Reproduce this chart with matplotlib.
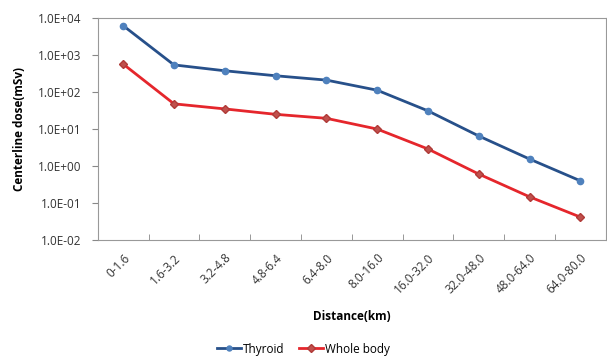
import math
import matplotlib
matplotlib.use("Agg")
import matplotlib.pyplot as plt
from matplotlib.ticker import FixedLocator, FuncFormatter

# distance bands and doses
distances = ["0-1.6", "1.6-3.2", "3.2-4.8", "4.8-6.4", "6.4-8.0", "8.0-16.0",
             "16.0-32.0", "32.0-48.0", "48.0-64.0", "64.0-80.0"]
thyroid = [6200, 540, 375, 275, 210, 112, 31, 6.5, 1.55, 0.40]
whole_body = [570, 48, 35, 25, 19.5, 10, 2.9, 0.61, 0.148, 0.042]
y_ticks = [1e-2, 1e-1, 1e0, 1e1, 1e2, 1e3, 1e4]

plt.rcParams['font.family'] = ['Open Sans', 'DejaVu Sans']

fig = plt.figure(figsize=(6.07, 3.59), dpi=100)
ax = fig.add_axes([0.161, 0.331, 0.837, 0.619])

x = list(range(len(distances)))
ax.plot(x, thyroid, color='#27508a', lw=2, marker='o', ms=4.5,
        mfc='#4f81bd', mec='#4f81bd', label='Thyroid')
ax.plot(x, whole_body, color='#e5262c', lw=2, marker='D', ms=4.5,
        mfc='#c0504d', mec='#b03a37', label='Whole body')

ax.set_yscale('log')
ax.set_ylim(1e-2, 1e4)
ax.set_xlim(-0.5, len(distances) - 0.5)
ax.yaxis.set_major_locator(FixedLocator(y_ticks))
ax.yaxis.set_minor_locator(FixedLocator([]))
ax.yaxis.set_major_formatter(FuncFormatter(
    lambda v, p: "1.0E%+03d" % round(math.log10(v))))

ax.set_xticks(x)
ax.set_xticklabels(distances, rotation=45, ha='right', rotation_mode='anchor',
                   fontsize=8.5, color='#333333')
ax.set_xticks([i + 0.5 for i in x[:-1]], minor=True)
ax.tick_params(axis='x', which='major', length=0, pad=8)
ax.tick_params(axis='x', which='minor', direction='in', length=4, color='#888888')
ax.tick_params(axis='y', which='major', direction='out', length=4, color='#888888',
               labelsize=8.5, labelcolor='#333333', pad=8)

for s in ax.spines.values():
    s.set_color('#999999')

ax.set_xlabel('Distance(km)', fontsize=8.5, fontweight='bold', labelpad=10)
ax.set_ylabel('Centerline dose(mSv)', fontsize=8.5, fontweight='bold', labelpad=8)

fig.legend(loc='lower center', bbox_to_anchor=(0.5, -0.02), ncol=2, frameon=False,
           fontsize=8.5, handlelength=2.0, columnspacing=1.2, handletextpad=0.2,
           markerscale=0.8)

fig.savefig('out.png', dpi=100)
